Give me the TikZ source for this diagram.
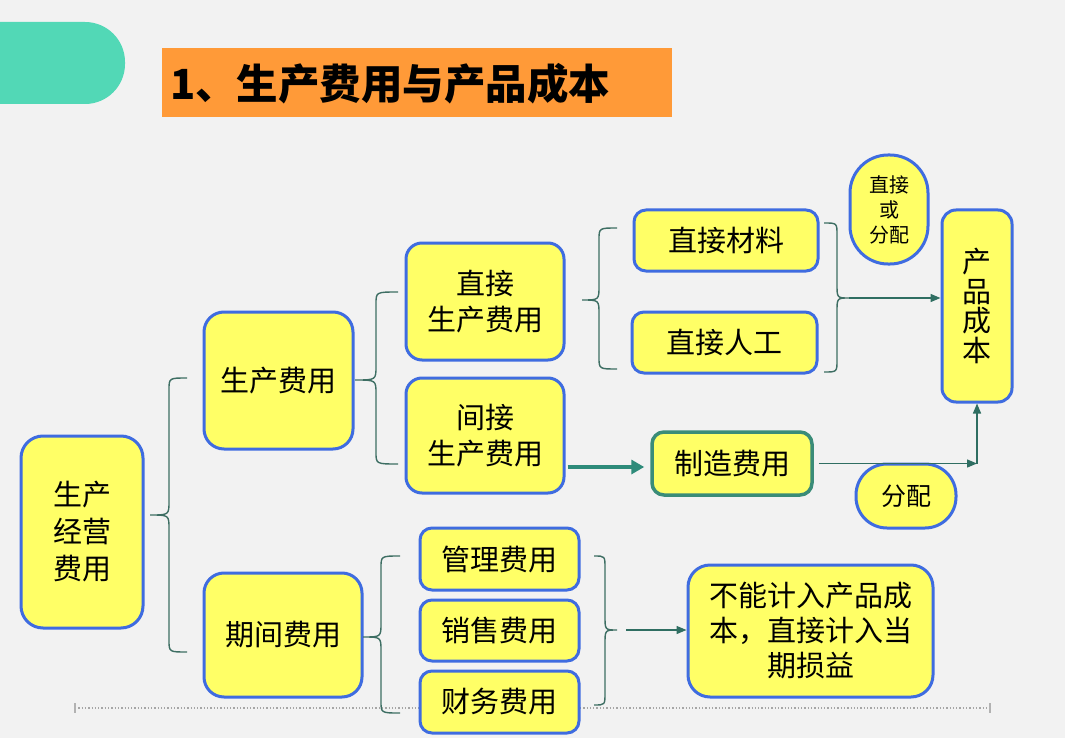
\documentclass[tikz,border=0pt]{standalone}
\usepackage{fontspec}
\setmainfont{Noto Sans CJK SC}
\usetikzlibrary{arrows.meta}
\definecolor{bgc}{HTML}{F2F2F2}
\definecolor{tealtab}{HTML}{52D8B6}
\definecolor{orng}{HTML}{FF9A38}
\definecolor{yel}{HTML}{FFFF66}
\definecolor{bord}{HTML}{3F6CE0}
\definecolor{tealb}{HTML}{3A8C78}
\definecolor{brc}{HTML}{3D6E63}
\definecolor{arrc}{HTML}{2F6E62}
\definecolor{thickc}{HTML}{2E8B7A}
% tip x, tip y, y1, y2, x vertical, x ends
\newcommand{\BraceShape}[6]{%
  \draw[bracest] (#6,#3) .. controls (#5,#3) .. (#5,{#3+12}) -- (#5,{#2-14})
    .. controls (#5,#2) .. (#1,#2) .. controls (#5,#2) .. (#5,{#2+14})
    -- (#5,{#4-12}) .. controls (#5,#4) .. (#6,#4);}
\begin{document}
\begin{tikzpicture}[x=1pt,y=-1pt,
  box/.style={draw=bord, line width=3pt, fill=yel, rounded corners=16pt,
    font=\fontsize{29}{37}\selectfont, align=center, inner sep=0pt},
  bracest/.style={draw=brc, line width=1.4pt},
  thinarr/.style={draw=arrc, line width=1.4pt, -{Triangle[length=10pt,width=8pt]}},
  thickarr/.style={draw=thickc, line width=4pt, -{Triangle[length=13pt,width=14pt]}}
]
\useasboundingbox (0,0) rectangle (1065,738);
\clip (0,0) rectangle (1065,738);
\fill[bgc] (0,0) rectangle (1065,738);
% teal tab
\fill[tealtab, rounded corners=40pt] (-60,22) rectangle (125,104);
% title
\fill[orng] (162,48) rectangle (672,117);
\node[anchor=west, inner sep=0pt, font=\fontsize{41.5}{45}\selectfont\bfseries] (title) at (170,84) {1、生产费用与产品成本};

% dotted rule (behind boxes)
\draw[gray!70, dotted, line width=1.3pt] (75,708) -- (990,708);
\draw[gray!60, line width=1.5pt] (75,703) -- (75,713);
\draw[gray!60, line width=1.5pt] (990,703) -- (990,713);

% nodes
\node[box, minimum width=122pt, minimum height=192pt, rounded corners=22pt] (scjy) at (82,532) {生产\\经营\\费用};
\node[box, minimum width=149pt, minimum height=137pt, rounded corners=20pt] (scfy) at (278.5,380.5) {生产费用};
\node[box, minimum width=158pt, minimum height=124pt, rounded corners=20pt] (qjfy) at (283,635) {期间费用};
\node[box, minimum width=158pt, minimum height=117pt, font=\fontsize{29}{36}\selectfont] (zjsc) at (485,301.5) {直接\\生产费用};
\node[box, minimum width=158pt, minimum height=115pt, font=\fontsize{29}{36}\selectfont] (jjsc) at (485,435.5) {间接\\生产费用};
\node[box, minimum width=184pt, minimum height=61pt, rounded corners=12pt] (zjcl) at (726,240.5) {直接材料};
\node[box, minimum width=185pt, minimum height=61pt, rounded corners=12pt] (zjrg) at (724.5,342.5) {直接人工};
\node[box, minimum width=78pt, minimum height=109pt, rounded corners=38pt, font=\fontsize{20}{25}\selectfont] (zjfp) at (889,209.5) {直接\\或\\分配};
\node[box, minimum width=70pt, minimum height=192pt, rounded corners=14pt, font=\fontsize{29}{29.5}\selectfont] (cpcb) at (977,306) {产\\品\\成\\本};
\node[box, draw=tealb, line width=3.5pt, minimum width=160pt, minimum height=63pt, rounded corners=12pt] (zzfy) at (732,463.5) {制造费用};
\node[box, minimum width=100pt, minimum height=64pt, rounded corners=31pt, font=\fontsize{25}{30}\selectfont] (fp) at (906,496) {分配};
\node[box, minimum width=159pt, minimum height=62pt, rounded corners=12pt] (glfy) at (499.5,559) {管理费用};
\node[box, minimum width=159pt, minimum height=61pt, rounded corners=12pt] (xsfy) at (499.5,630.5) {销售费用};
\node[box, minimum width=159pt, minimum height=62pt, rounded corners=12pt] (cwfy) at (499.5,702) {财务费用};
\node[box, minimum width=245pt, minimum height=132pt, rounded corners=22pt, font=\fontsize{29}{35}\selectfont] (bnjr) at (810.5,631) {不能计入产品成\\本，直接计入当\\期损益};

% braces
\BraceShape{150}{515}{378}{652}{169}{187}
\BraceShape{355}{380}{292}{464}{376}{398}
\BraceShape{363}{637}{556}{713}{381}{400}
\BraceShape{582}{300}{228}{369}{599}{617}
\BraceShape{849}{298}{223}{372}{837}{824}
\BraceShape{617}{630}{556}{705}{605}{594}

% connectors
\coordinate (t1) at (849,298);
\coordinate (t2) at (626,630);
\draw[thinarr] (t1) -- (t1 -| cpcb.west);
\draw[thinarr] (t2) -- (t2 -| bnjr.west);
\draw[thickarr] ([xshift=2pt]jjsc.east |- 0,467) -- ([xshift=-6pt]zzfy.west |- 0,467);
\coordinate (corner) at (cpcb.south |- zzfy.east);
\draw[thinarr] ([xshift=5pt]zzfy.east) -- (corner);
\draw[thinarr] (corner) -- (cpcb.south);
\end{tikzpicture}
\end{document}
